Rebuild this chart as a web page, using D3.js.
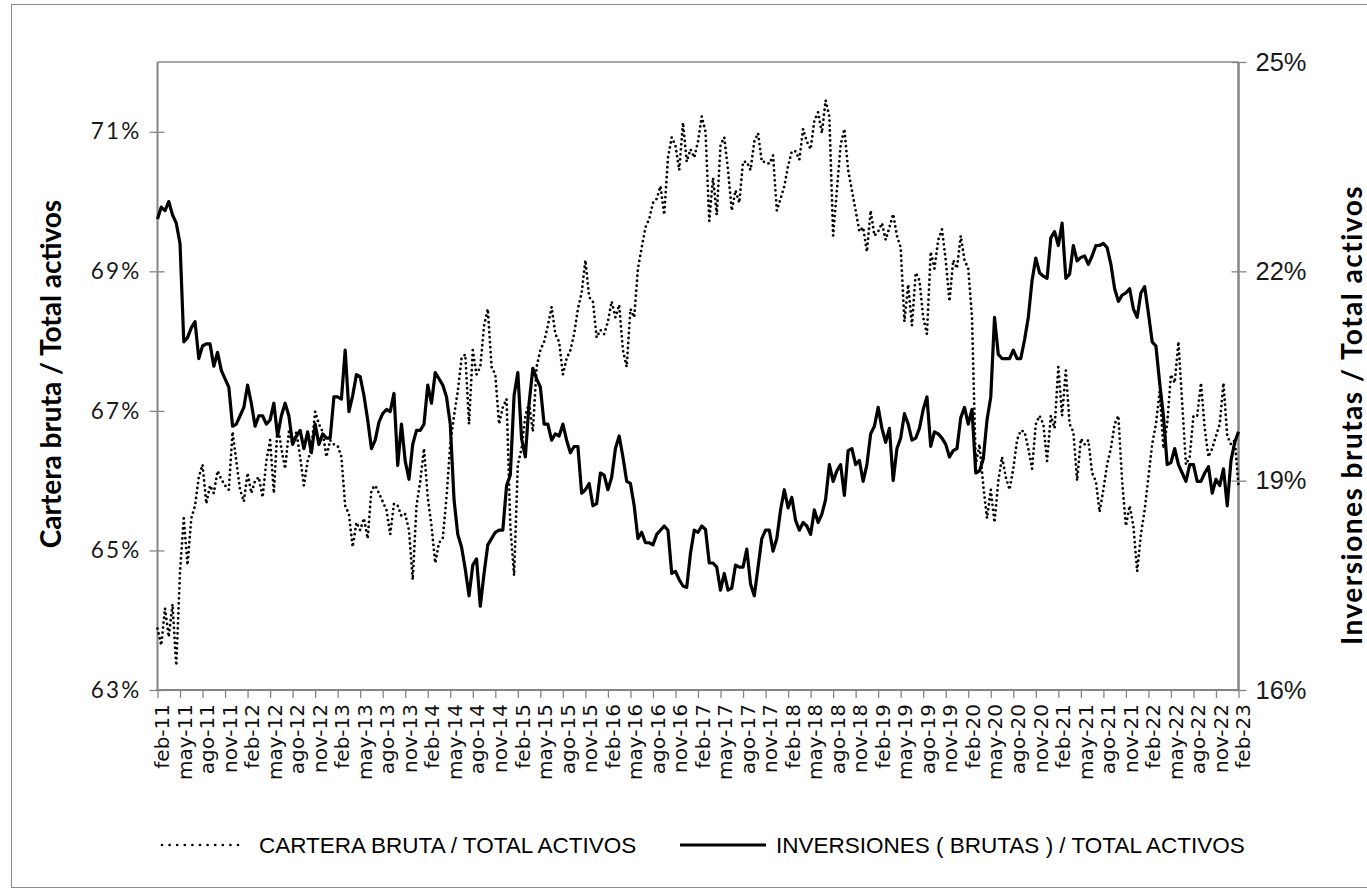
<!DOCTYPE html>
<html>
<head>
<meta charset="utf-8">
<script src="https://cdn.jsdelivr.net/npm/d3@7"></script>
<style>
  body { margin: 0; background: #fff; }
  svg { display: block; }
</style>
</head>
<body>
<svg id="chart" width="1367" height="895"></svg>
<script>
// Semi-monthly observations, Feb 2011 – Feb 2023 (index i = i/2 months after feb-11)
const cartera = [
  63.88,63.64,64.17,63.76,64.23,63.35,64.70,65.46,64.79,65.46,65.64,66.05,66.23,65.67,65.93,65.82,
  66.14,66.02,65.93,65.87,66.70,66.28,65.87,65.70,66.11,65.82,66.00,66.05,65.76,66.28,66.58,65.82,
  66.81,66.46,66.17,66.70,66.52,66.70,66.34,65.93,66.28,66.46,66.99,66.81,66.70,66.34,66.58,66.52,
  66.50,66.34,65.64,65.52,65.05,65.40,65.29,65.46,65.17,65.87,65.93,65.82,65.70,65.58,65.23,65.67,
  65.64,65.49,65.52,65.29,64.58,65.64,65.99,66.46,65.76,65.35,64.82,65.11,65.17,65.76,66.52,66.93,
  67.28,67.75,67.81,66.81,67.87,67.52,67.63,68.22,68.46,67.63,67.52,66.81,67.05,67.17,65.35,64.64,
  66.23,66.46,66.93,67.11,66.70,67.63,67.87,67.99,68.22,68.49,68.10,67.99,67.52,67.75,67.87,68.10,
  68.46,68.69,69.16,68.63,68.57,68.05,68.16,68.10,68.28,68.57,68.34,68.52,67.87,67.63,68.46,68.34,
  69.04,69.34,69.63,69.75,69.98,70.04,70.22,69.81,70.63,70.92,70.80,70.45,71.13,70.57,70.75,70.63,
  70.86,71.22,71.00,69.72,70.34,69.81,70.81,70.92,70.45,69.87,70.16,69.98,70.57,70.57,70.45,70.86,
  70.98,70.57,70.57,70.54,70.66,69.87,70.04,70.22,70.51,70.72,70.72,70.60,71.04,70.86,70.75,71.16,
  71.28,70.98,71.45,71.22,69.51,70.16,70.81,71.04,70.45,70.16,69.87,69.57,69.63,69.28,69.87,69.51,
  69.57,69.69,69.45,69.63,69.82,69.51,69.34,68.28,68.81,68.22,68.98,68.87,68.34,68.10,69.28,69.04,
  69.45,69.60,69.16,68.57,69.16,69.04,69.51,69.16,69.04,68.34,66.23,66.52,65.93,65.46,65.87,65.40,
  65.99,66.34,66.05,65.87,66.17,66.58,66.72,66.70,66.46,66.17,66.81,66.93,66.81,66.28,66.93,66.75,
  67.63,66.93,67.58,66.81,66.70,66.00,66.60,66.52,66.58,66.11,65.99,65.55,65.87,66.23,66.46,66.81,
  66.93,65.99,65.35,65.64,65.35,64.70,65.23,65.58,66.05,66.52,66.81,67.28,66.46,66.81,67.52,67.40,
  67.99,67.11,66.23,66.34,66.93,66.93,67.40,66.75,66.34,66.46,66.64,66.81,67.40,66.64,66.52,66.58,
  65.93
];
const inversiones = [
  22.75,22.92,22.87,23.00,22.81,22.69,22.40,20.99,21.05,21.19,21.28,20.75,20.93,20.96,20.96,20.64,
  20.84,20.58,20.46,20.34,19.78,19.81,19.93,20.05,20.37,20.11,19.78,19.93,19.93,19.81,19.87,20.11,
  19.64,19.93,20.11,19.93,19.52,19.64,19.72,19.46,19.70,19.40,19.81,19.52,19.67,19.61,19.61,20.20,
  20.20,20.17,20.87,19.99,20.22,20.52,20.49,20.22,19.87,19.46,19.58,19.84,19.96,20.02,19.99,20.25,
  19.22,19.81,19.28,19.02,19.52,19.72,19.72,19.81,20.37,20.11,20.55,20.46,20.37,20.20,19.81,18.73,
  18.23,18.05,17.73,17.35,17.79,17.88,17.20,17.67,18.08,18.17,18.26,18.29,18.29,18.93,19.08,20.22,
  20.55,19.60,19.34,20.11,20.61,20.46,20.34,19.81,19.81,19.58,19.67,19.64,19.81,19.58,19.40,19.49,
  19.49,18.82,18.87,18.96,18.64,18.67,19.11,19.08,18.87,19.05,19.46,19.64,19.34,18.99,18.96,18.64,
  18.17,18.26,18.11,18.11,18.08,18.23,18.29,18.35,18.29,17.67,17.70,17.58,17.49,17.47,17.96,18.29,
  18.26,18.35,18.30,17.82,17.82,17.76,17.43,17.67,17.43,17.46,17.79,17.76,17.76,18.02,17.52,17.35,
  17.76,18.17,18.29,18.29,17.99,18.17,18.58,18.87,18.61,18.76,18.43,18.29,18.40,18.35,18.23,18.58,
  18.40,18.52,18.73,19.23,18.99,19.14,19.23,18.79,19.43,19.46,19.23,19.29,18.99,19.23,19.67,19.78,
  20.05,19.75,19.55,19.75,19.00,19.46,19.61,19.96,19.81,19.58,19.61,19.75,20.02,20.20,19.49,19.70,
  19.67,19.61,19.52,19.34,19.43,19.46,19.90,20.05,19.81,20.02,19.11,19.14,19.31,19.87,20.20,21.34,
  20.81,20.75,20.75,20.75,20.87,20.75,20.75,21.02,21.34,21.87,22.19,21.98,21.93,21.90,22.48,22.57,
  22.37,22.69,21.90,21.96,22.37,22.15,22.20,22.22,22.10,22.22,22.37,22.37,22.40,22.34,22.10,21.75,
  21.57,21.66,21.69,21.75,21.46,21.34,21.69,21.78,21.40,20.99,20.93,20.40,19.93,19.23,19.26,19.46,
  19.23,19.11,18.99,19.23,19.23,18.99,18.99,19.11,19.20,18.82,19.02,18.93,19.17,18.64,19.29,19.55,
  19.70
];

// Axis definitions
const leftTicks  = [63, 65, 67, 69, 71];
const rightTicks = [16, 19, 22, 25];
const tickMonths = ["feb", "may", "ago", "nov"];   // quarterly labels
const firstYear  = 2011;
const totalMonths = 144;                           // feb-11 .. feb-23

const seriesNames = ["CARTERA BRUTA / TOTAL ACTIVOS", "INVERSIONES ( BRUTAS ) / TOTAL ACTIVOS"];
const leftTitle  = "Cartera bruta / Total activos";
const rightTitle = "Inversiones brutas / Total activos";

const svg = d3.select("#chart");
const plot = { left: 157.5, right: 1238.5, top: 62, bottom: 690 };

// Outer frame (right edge runs past the page)
svg.append("rect")
  .attr("x", 11.5).attr("y", 4.5).attr("width", 1380).attr("height", 883)
  .attr("fill", "#fff").attr("stroke", "#8a8a8a").attr("stroke-width", 1);

const x  = d3.scaleLinear().domain([0, totalMonths]).range([plot.left, plot.right]);
const yL = d3.scaleLinear().domain([63, 72]).range([plot.bottom, plot.top]);
const yR = d3.scaleLinear().domain([16, 25]).range([plot.bottom, plot.top]);

const axisColor = "#858585";

// Top border of the plot area
svg.append("line")
  .attr("x1", plot.left).attr("x2", plot.right)
  .attr("y1", plot.top).attr("y2", plot.top)
  .attr("stroke", "#a8a8a8").attr("stroke-width", 2);

// Left axis
const gL = svg.append("g").attr("transform", `translate(${plot.left},0)`)
  .call(d3.axisLeft(yL).tickValues(leftTicks).tickFormat(d => d + "%").tickSize(8).tickPadding(8));
gL.select(".domain").remove();
gL.selectAll(".tick line").attr("x1", 7).attr("stroke", axisColor).attr("stroke-width", 1.3);
gL.selectAll(".tick text")
  .attr("font-family", "Lato, 'Open Sans', sans-serif").attr("font-size", 22.5)
  .attr("letter-spacing", 2.2).attr("fill", "#1a1a1a");
gL.append("line").attr("y1", plot.top).attr("y2", plot.bottom + 1)
  .attr("stroke", axisColor).attr("stroke-width", 2);

// Right axis
const gR = svg.append("g").attr("transform", `translate(${plot.right},0)`)
  .call(d3.axisRight(yR).tickValues(rightTicks).tickFormat(d => d + "%").tickSize(8).tickPadding(9));
gR.select(".domain").remove();
gR.selectAll(".tick line").attr("x1", -7).attr("stroke", axisColor).attr("stroke-width", 1.3);
gR.selectAll(".tick text")
  .attr("font-family", "'Liberation Sans', Arial, sans-serif").attr("font-size", 25.5)
  .attr("fill", "#1a1a1a");
gR.append("line").attr("y1", plot.top).attr("y2", plot.bottom + 1)
  .attr("stroke", axisColor).attr("stroke-width", 2.5);

// Bottom axis, quarterly ticks
const quarterTicks = d3.range(0, totalMonths + 1, 3);
const labelOf = m => tickMonths[(m / 3) % 4] + "-" + String((firstYear + Math.floor((m + 1) / 12)) % 100).padStart(2, "0");
const gB = svg.append("g").attr("transform", `translate(0,${plot.bottom})`)
  .call(d3.axisBottom(x).tickValues(quarterTicks).tickFormat(labelOf).tickSize(8).tickPadding(0));
gB.select(".domain").remove();
gB.selectAll(".tick line").attr("stroke", axisColor).attr("stroke-width", 1.3);
gB.selectAll(".tick text")
  .attr("font-family", "'DejaVu Sans', sans-serif").attr("font-size", 20)
  .attr("fill", "#111")
  .attr("text-anchor", "end")
  .attr("transform", "translate(4,14) rotate(-90)")
  .attr("dy", "0.36em").attr("y", 0).attr("x", 0);
gB.append("line").attr("x1", plot.left - 1).attr("x2", plot.right + 1)
  .attr("stroke", axisColor).attr("stroke-width", 2);

// Axis titles
svg.append("text")
  .attr("transform", `translate(61,374) rotate(-90)`)
  .attr("text-anchor", "middle")
  .attr("font-family", "Lato, 'Open Sans', sans-serif").attr("font-weight", 700).attr("font-size", 28)
  .attr("fill", "#000").text(leftTitle);
svg.append("text")
  .attr("transform", `translate(1362,415) rotate(-90)`)
  .attr("text-anchor", "middle")
  .attr("font-family", "Lato, 'Open Sans', sans-serif").attr("font-weight", 700).attr("font-size", 28)
  .attr("letter-spacing", 1.5)
  .attr("fill", "#000").text(rightTitle);

// Series
const idx = d3.range(cartera.length);
const lineL = d3.line().x(i => x(i / 2)).y(i => yL(cartera[i]));
const lineR = d3.line().x(i => x(i / 2)).y(i => yR(inversiones[i]));

svg.append("path").datum(idx).attr("d", lineL)
  .attr("fill", "none").attr("stroke", "#000").attr("stroke-width", 2.8)
  .attr("stroke-linecap", "round").attr("stroke-linejoin", "round")
  .attr("stroke-dasharray", "0 5");

svg.append("path").datum(idx).attr("d", lineR)
  .attr("fill", "none").attr("stroke", "#000").attr("stroke-width", 3.2)
  .attr("stroke-linejoin", "round");

// Legend
const legY = 845;
const leg = svg.append("g").attr("font-family", "'Liberation Sans', Arial, sans-serif")
  .attr("font-size", 22.5).attr("fill", "#000");
leg.append("line").attr("x1", 162).attr("x2", 238).attr("y1", legY).attr("y2", legY)
  .attr("stroke", "#000").attr("stroke-width", 2.7).attr("stroke-linecap", "round")
  .attr("stroke-dasharray", "0 7.6");
leg.append("text").attr("x", 259).attr("y", legY).attr("dy", "0.36em").text(seriesNames[0]);
leg.append("line").attr("x1", 680).attr("x2", 766).attr("y1", legY).attr("y2", legY)
  .attr("stroke", "#000").attr("stroke-width", 3.2);
leg.append("text").attr("x", 776).attr("y", legY).attr("dy", "0.36em").text(seriesNames[1]);
</script>
</body>
</html>
